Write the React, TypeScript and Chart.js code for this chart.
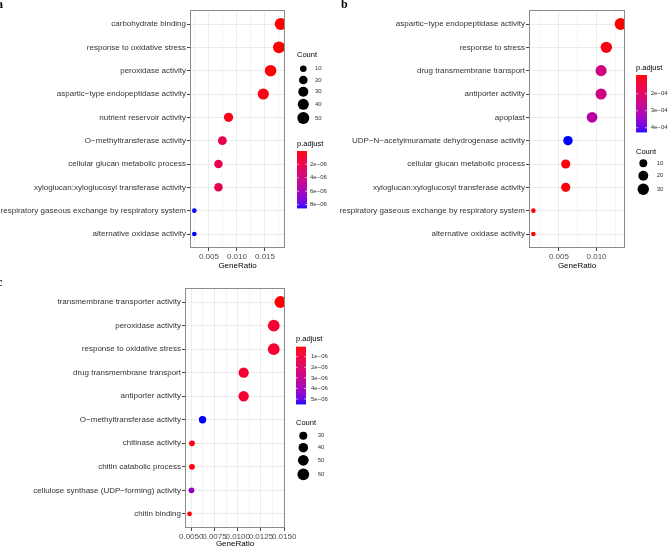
import React, { useEffect, useRef } from 'react';
import { Chart, registerables } from 'chart.js';

Chart.register(...registerables);

const FONT = "'Liberation Sans', Arial, Helvetica, sans-serif";

// ---------------- Panel a ----------------
const termsA = [
  'carbohydrate binding',
  'response to oxidative stress',
  'peroxidase activity',
  'aspartic−type endopeptidase activity',
  'nutrient reservoir activity',
  'O−methyltransferase activity',
  'cellular glucan metabolic process',
  'xyloglucan:xyloglucosyl transferase activity',
  'respiratory gaseous exchange by respiratory system',
  'alternative oxidase activity',
];
const geneRatioA = [0.0178, 0.0175, 0.016, 0.0147, 0.0085, 0.0074, 0.0067, 0.0067, 0.0024, 0.0024];
const countA = [50, 49, 45, 41, 24, 21, 19, 19, 7, 7];
const padjA = [2e-8, 5e-8, 1e-7, 3e-7, 4e-7, 2.3e-6, 2.1e-6, 2.1e-6, 8.5e-6, 8.5e-6];
const countBreaksA = [10, 20, 30, 40, 50];
const padjBreaksA = [2e-6, 4e-6, 6e-6, 8e-6];
const padjLabelsA = ['2e−06', '4e−06', '6e−06', '8e−06'];
const xMajorA = [0.005, 0.01, 0.015];
const xLabelsA = ['0.005', '0.010', '0.015'];
const xMinorA = [0.0025, 0.0075, 0.0125, 0.0175];

// ---------------- Panel b ----------------
const termsB = [
  'aspartic−type endopeptidase activity',
  'response to stress',
  'drug transmembrane transport',
  'antiporter activity',
  'apoplast',
  'UDP−N−acetylmuramate dehydrogenase activity',
  'cellular glucan metabolic process',
  'xyloglucan:xyloglucosyl transferase activity',
  'respiratory gaseous exchange by respiratory system',
  'alternative oxidase activity',
];
const geneRatioB = [0.0132, 0.0113, 0.0106, 0.0106, 0.0094, 0.0062, 0.0059, 0.0059, 0.0016, 0.0016];
const countB = [35, 30, 28, 28, 25, 17, 16, 16, 4, 4];
const padjB = [0.9e-4, 1.0e-4, 2.4e-4, 2.45e-4, 3.0e-4, 4.25e-4, 0.95e-4, 0.95e-4, 0.92e-4, 0.92e-4];
const countBreaksB = [10, 20, 30];
const padjBreaksB = [2e-4, 3e-4, 4e-4];
const padjLabelsB = ['2e−04', '3e−04', '4e−04'];
const xMajorB = [0.005, 0.01];
const xLabelsB = ['0.005', '0.010'];
const xMinorB = [0.0025, 0.0075, 0.0125];

// ---------------- Panel c ----------------
const termsC = [
  'transmembrane transporter activity',
  'peroxidase activity',
  'response to oxidative stress',
  'drug transmembrane transport',
  'antiporter activity',
  'O−methyltransferase activity',
  'chitinase activity',
  'chitin catabolic process',
  'cellulose synthase (UDP−forming) activity',
  'chitin binding',
];
const geneRatioC = [0.0146, 0.01388, 0.01388, 0.01064, 0.01064, 0.00622, 0.00508, 0.00508, 0.00503, 0.00482];
const countC = [63, 60, 60, 46, 46, 27, 22, 22, 22, 21];
const padjC = [5e-8, 7e-7, 7e-7, 7.5e-7, 7.5e-7, 5.47e-6, 2e-7, 2e-7, 4.2e-6, 1e-7];
const countBreaksC = [30, 40, 50, 60];
const padjBreaksC = [1e-6, 2e-6, 3e-6, 4e-6, 5e-6];
const padjLabelsC = ['1e−06', '2e−06', '3e−06', '4e−06', '5e−06'];
const xMajorC = [0.005, 0.0075, 0.01, 0.0125, 0.015];
const xLabelsC = ['0.0050', '0.0075', '0.0100', '0.0125', '0.0150'];
const xMinorC = [0.00625, 0.00875, 0.01125, 0.01375];

// ---------------- colour ramp (CIELAB, red -> blue) ----------------
function lin(c: number) {
  c /= 255;
  return c <= 0.04045 ? c / 12.92 : Math.pow((c + 0.055) / 1.055, 2.4);
}
function unlin(v: number) {
  const c = v <= 0.0031308 ? 12.92 * v : 1.055 * Math.pow(Math.max(v, 0), 1 / 2.4) - 0.055;
  return Math.round(Math.max(0, Math.min(1, c)) * 255);
}
const WX = 0.95047, WY = 1, WZ = 1.08883;
function rgb2lab(rgb: number[]) {
  const R = lin(rgb[0]), G = lin(rgb[1]), B = lin(rgb[2]);
  const X = (0.4124564 * R + 0.3575761 * G + 0.1804375 * B) / WX;
  const Y = (0.2126729 * R + 0.7151522 * G + 0.072175 * B) / WY;
  const Z = (0.0193339 * R + 0.119192 * G + 0.9503041 * B) / WZ;
  const f = (t: number) => (t > 0.008856 ? Math.cbrt(t) : 7.787 * t + 16 / 116);
  const fx = f(X), fy = f(Y), fz = f(Z);
  return [116 * fy - 16, 500 * (fx - fy), 200 * (fy - fz)];
}
function lab2rgb(lab: number[]) {
  const [L, a, b] = lab;
  const fy = (L + 16) / 116, fx = fy + a / 500, fz = fy - b / 200;
  const fi = (t: number) => (t * t * t > 0.008856 ? t * t * t : (t - 16 / 116) / 7.787);
  const X = fi(fx) * WX, Y = fi(fy) * WY, Z = fi(fz) * WZ;
  const R = 3.2404542 * X - 1.5371385 * Y - 0.4985314 * Z;
  const G = -0.969266 * X + 1.8760108 * Y + 0.041556 * Z;
  const B = 0.0556434 * X - 0.2040259 * Y + 1.0572252 * Z;
  return `rgb(${unlin(R)},${unlin(G)},${unlin(B)})`;
}
const LAB_LOW = rgb2lab([255, 0, 0]);
const LAB_HIGH = rgb2lab([0, 0, 255]);
function ramp(t: number) {
  const u = Math.max(0, Math.min(1, t));
  return lab2rgb(LAB_LOW.map((v, i) => v + (LAB_HIGH[i] - v) * u));
}

// ---------------- panel definitions (data + layout) ----------------
const panelA = {
  terms: termsA, ratio: geneRatioA, count: countA, padj: padjA,
  countBreaks: countBreaksA, padjBreaks: padjBreaksA, padjLabels: padjLabelsA,
  xMajor: xMajorA, xLabels: xLabelsA, xMinor: xMinorA,
  box: { left: 0, top: 0, width: 334, height: 280 },
  yAxisWidth: 190, padTop: 10, padRight: 49, padBottom: 8, xAxisHeight: 24,
  countFirst: true,
  countLegend: { titleX: 297, titleY: 55, dotX: 303.3, labelX: 315, ys: [68.7, 80, 91.7, 104.3, 118] },
  barLegend: { titleX: 297, titleY: 144.3, barX: 297, barY: 151, barW: 10, barH: 57, labelX: 310 },
};
const panelB = {
  terms: termsB, ratio: geneRatioB, count: countB, padj: padjB,
  countBreaks: countBreaksB, padjBreaks: padjBreaksB, padjLabels: padjLabelsB,
  xMajor: xMajorB, xLabels: xLabelsB, xMinor: xMinorB,
  box: { left: 334, top: 0, width: 334, height: 280 },
  yAxisWidth: 195, padTop: 10, padRight: 43, padBottom: 8, xAxisHeight: 24,
  countFirst: false,
  countLegend: { titleX: 302, titleY: 151.7, dotX: 309.3, labelX: 322.7, ys: [163.3, 175.7, 189.3] },
  barLegend: { titleX: 302, titleY: 67.7, barX: 302, barY: 75, barW: 11, barH: 57, labelX: 316.7 },
};
const panelC = {
  terms: termsC, ratio: geneRatioC, count: countC, padj: padjC,
  countBreaks: countBreaksC, padjBreaks: padjBreaksC, padjLabels: padjLabelsC,
  xMajor: xMajorC, xLabels: xLabelsC, xMinor: xMinorC,
  box: { left: 0, top: 280, width: 334, height: 270 },
  yAxisWidth: 185, padTop: 8, padRight: 49, padBottom: 0, xAxisHeight: 22,
  countFirst: false,
  countLegend: { titleX: 296, titleY: 142.7, dotX: 303.3, labelX: 317.7, ys: [155.7, 167.7, 180.3, 194.3] },
  barLegend: { titleX: 296, titleY: 59.3, barX: 296, barY: 66.7, barW: 10, barH: 57.3, labelX: 311 },
};

function makeChart(canvas: HTMLCanvasElement, p: any) {
  const n = p.terms.length;
  const rLo = Math.min(...p.ratio), rHi = Math.max(...p.ratio);
  const xMin = rLo - 0.05 * (rHi - rLo);
  const xMax = rHi + 0.05 * (rHi - rLo);
  const cLo = Math.min(...p.count), cHi = Math.max(...p.count);
  const pLo = Math.min(...p.padj), pHi = Math.max(...p.padj);
  const radius = (c: number) => 2.3 + 3.7 * Math.sqrt(Math.max(0, (c - cLo) / (cHi - cLo)));
  const colour = (v: number) => ramp((v - pLo) / (pHi - pLo));
  const isMajor = (v: number) => p.xMajor.some((m: number) => Math.abs(m - v) < 1e-9);
  const xTicks = [...p.xMajor, ...p.xMinor].filter((v: number) => v >= xMin && v <= xMax).sort((a: number, b: number) => a - b);

  const deco = {
    id: 'deco',
    afterDraw(chart: any) {
      const { ctx, chartArea: a } = chart;
      ctx.save();
      ctx.strokeStyle = '#8a8a8a';
      ctx.lineWidth = 1;
      ctx.strokeRect(Math.round(a.left) + 0.5, Math.round(a.top) + 0.5, Math.round(a.right - a.left) - 1, Math.round(a.bottom - a.top) - 1);

      ctx.textAlign = 'left';
      ctx.textBaseline = 'middle';
      // Count legend
      const L = p.countLegend;
      ctx.fillStyle = '#000';
      ctx.font = `7.5px ${FONT}`;
      ctx.fillText('Count', L.titleX, L.titleY);
      p.countBreaks.forEach((c: number, i: number) => {
        ctx.beginPath();
        ctx.arc(L.dotX, L.ys[i], radius(c), 0, Math.PI * 2);
        ctx.fill();
      });
      ctx.font = `6px ${FONT}`;
      ctx.fillStyle = '#333';
      p.countBreaks.forEach((c: number, i: number) => ctx.fillText(String(c), L.labelX, L.ys[i]));

      // Colour bar
      const B = p.barLegend;
      ctx.fillStyle = '#000';
      ctx.font = `7.5px ${FONT}`;
      ctx.fillText('p.adjust', B.titleX, B.titleY);
      const steps = Math.ceil(B.barH * 2);
      for (let k = 0; k < steps; k++) {
        ctx.fillStyle = ramp(k / steps);
        ctx.fillRect(B.barX, B.barY + (k * B.barH) / steps, B.barW, B.barH / steps + 0.4);
      }
      ctx.strokeStyle = '#fff';
      ctx.lineWidth = 0.6;
      ctx.font = `6px ${FONT}`;
      p.padjBreaks.forEach((v: number, i: number) => {
        const y = B.barY + ((v - pLo) / (pHi - pLo)) * B.barH;
        ctx.beginPath();
        ctx.moveTo(B.barX, y);
        ctx.lineTo(B.barX + B.barW / 5, y);
        ctx.moveTo(B.barX + B.barW, y);
        ctx.lineTo(B.barX + B.barW * 0.8, y);
        ctx.stroke();
        ctx.fillStyle = '#333';
        ctx.fillText(p.padjLabels[i], B.labelX, y);
      });
      ctx.restore();
    },
  };

  return new Chart(canvas, {
    type: 'scatter',
    data: {
      datasets: [
        {
          data: p.ratio.map((r: number, i: number) => ({ x: r, y: i })),
          pointRadius: (ctx: any) => radius(p.count[ctx.dataIndex]),
          pointHoverRadius: (ctx: any) => radius(p.count[ctx.dataIndex]),
          pointBackgroundColor: (ctx: any) => colour(p.padj[ctx.dataIndex]),
          pointBorderWidth: 0,
          pointBorderColor: 'rgba(0,0,0,0)',
        },
      ],
    },
    options: {
      responsive: false,
      animation: false,
      devicePixelRatio: 1,
      events: [],
      layout: { padding: { left: 0, top: p.padTop, right: p.padRight, bottom: p.padBottom } },
      plugins: { legend: { display: false }, tooltip: { enabled: false } },
      scales: {
        x: {
          type: 'linear',
          position: 'bottom',
          min: xMin,
          max: xMax,
          bounds: 'data',
          afterBuildTicks: (s: any) => {
            s.ticks = xTicks.map((v: number) => ({ value: v }));
          },
          afterFit: (s: any) => {
            s.height = p.xAxisHeight;
          },
          ticks: {
            autoSkip: false,
            maxRotation: 0,
            minRotation: 0,
            padding: 1,
            color: '#4D4D4D',
            font: { size: 8, family: FONT },
            callback: (v: number) => {
              const i = p.xMajor.findIndex((m: number) => Math.abs(m - v) < 1e-9);
              return i >= 0 ? p.xLabels[i] : '';
            },
          },
          grid: {
            color: (ctx: any) => (ctx.tick && isMajor(ctx.tick.value) ? '#EBEBEB' : '#F5F5F5'),
            tickColor: (ctx: any) => (ctx.tick && isMajor(ctx.tick.value) ? '#444' : 'rgba(0,0,0,0)'),
            tickLength: 3,
            lineWidth: 1,
          },
          border: { display: false },
          title: {
            display: true,
            text: 'GeneRatio',
            color: '#000',
            font: { size: 8, family: FONT },
            padding: { top: 0, bottom: 1 },
          },
        },
        y: {
          type: 'linear',
          reverse: true,
          min: -0.6,
          max: n - 1 + 0.6,
          bounds: 'data',
          afterBuildTicks: (s: any) => {
            s.ticks = p.terms.map((_: string, i: number) => ({ value: i }));
          },
          afterFit: (s: any) => {
            s.width = p.yAxisWidth;
          },
          ticks: {
            autoSkip: false,
            padding: 1,
            color: '#333',
            font: { size: 8, family: FONT },
            callback: (v: number) => p.terms[v] ?? '',
          },
          grid: { color: '#EBEBEB', tickColor: '#444', tickLength: 3, lineWidth: 1 },
          border: { display: false },
        },
      },
    },
    plugins: [deco],
  } as any);
}

function Panel({ p }: { p: any }) {
  const ref = useRef<HTMLCanvasElement | null>(null);
  useEffect(() => {
    const chart = makeChart(ref.current as HTMLCanvasElement, p);
    return () => chart.destroy();
  }, [p]);
  return (
    <canvas
      ref={ref}
      width={p.box.width}
      height={p.box.height}
      style={{ position: 'absolute', left: p.box.left, top: p.box.top, width: p.box.width, height: p.box.height }}
    />
  );
}

const letterStyle: React.CSSProperties = {
  position: 'absolute',
  font: "bold 12px 'Liberation Serif', 'Times New Roman', serif",
  lineHeight: '12px',
  color: '#000',
};

export default function App() {
  return (
    <div style={{ position: 'fixed', left: 0, top: 0, width: 668, height: 547, overflow: 'hidden', background: '#fff' }}>
      <Panel p={panelA} />
      <Panel p={panelB} />
      <Panel p={panelC} />
      <div style={{ ...letterStyle, left: -3, top: -2.5 }}>a</div>
      <div style={{ ...letterStyle, left: 341, top: -2 }}>b</div>
      <div style={{ ...letterStyle, left: -3, top: 276 }}>c</div>
    </div>
  );
}
